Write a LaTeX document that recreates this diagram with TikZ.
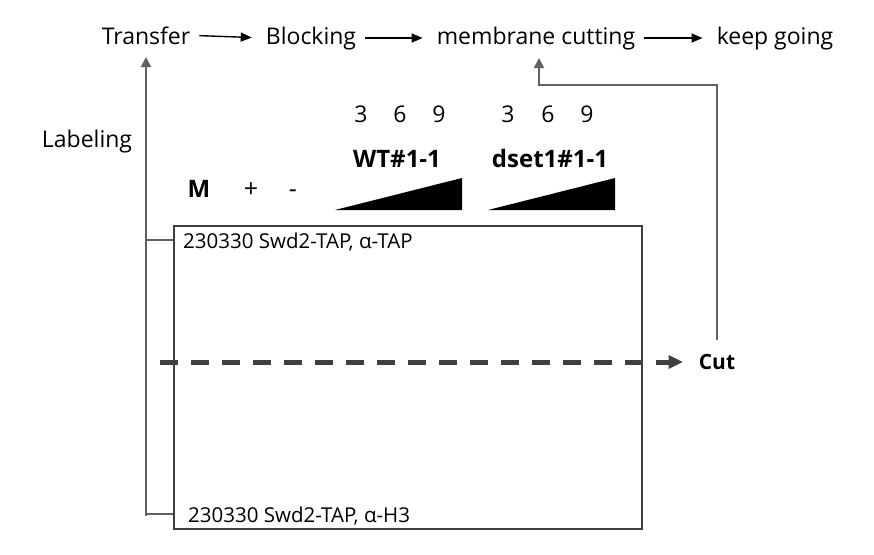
\documentclass[tikz,border=0pt]{standalone}
\usepackage{fontspec}
\setmainfont{Open Sans}
\usetikzlibrary{arrows.meta}
\tikzstyle{stage} = [font=\fontsize{23}{27}\selectfont, inner sep=0pt, anchor=base]
\tikzstyle{lane} = [font=\fontsize{24}{28}\selectfont\bfseries, inner sep=0pt, anchor=base]
\tikzstyle{tag} = [font=\fontsize{20.5}{24}\selectfont, inner sep=0pt, anchor=base west]
\tikzstyle{flow} = [black, line width=1.4pt, -{Triangle[length=11pt,width=9pt]}, shorten <=9pt, shorten >=14pt]
\tikzstyle{guide} = [draw=black!62, line width=1.8pt]
\tikzstyle{guidetip} = [-{Triangle[length=10pt,width=10pt]}]
\tikzstyle{membrane} = [draw=black!75, line width=1.8pt]
\tikzstyle{cutline} = [draw=black!75, line width=5pt, dash pattern=on 18pt off 13pt, -{Triangle[length=14pt,width=14pt,line width=0pt]}, shorten >=16pt]
\tikzstyle{ramp} = [fill=black]

\begin{document}
\begin{tikzpicture}[x=1pt,y=-1pt]
    \useasboundingbox (0,0) rectangle (874,554);
    \node[stage](transfer) at (146,44){Transfer};
    \node[stage](blocking) at (311,44){Blocking};
    \node[stage](cutting) at (536,44){membrane cutting};
    \node[stage](going) at (775,44){keep going};
    \draw[flow](transfer.east)--(blocking.west);
    \draw[flow](blocking.east)--(cutting.west);
    \draw[flow](cutting.east)--(going.west);
    \node[stage](labeling) at (87,147){Labeling};
    \node[stage](w3) at (361,122){3};
    \node[stage](w6) at (400,122){6};
    \node[stage](w9) at (439,122){9};
    \node[stage](d3) at (508,122){3};
    \node[stage](d6) at (548,122){6};
    \node[stage](d9) at (587,122){9};
    \node[lane](wt) at (397,167){WT\#1-1};
    \node[lane](dset) at (550,167){dset1\#1-1};
    \node[lane](marker) at (199,197){M};
    \node[stage,font=\fontsize{25}{29}\selectfont](plus) at (251,197){+};
    \node[stage,font=\fontsize{25}{29}\selectfont](minus) at (293,197){-};
    \fill[ramp](335,210)--(462,210)--(462,178)--cycle;
    \fill[ramp](488,210)--(615,210)--(615,178)--cycle;
    \draw[membrane](174,226) rectangle (642,529);
    \node[tag](tap) at (183,248){230330 Swd2-TAP, α-TAP};
    \node[tag](h3) at (188,522){230330 Swd2-TAP, α-H3};
    \coordinate (tapmark) at (173,240);
    \coordinate (h3mark) at (173,514);
    \coordinate (turn) at (539,85);
    \coordinate (cutmark) at (717,340);
    \coordinate (cutstart) at (160,362);
    \draw[guide](tapmark)-|([yshift=-2pt]h3mark -| transfer.base);
    \draw[guide,guidetip](h3mark)-|([yshift=-13pt]transfer.base);
    \draw[guide,guidetip](cutmark)|-(turn)--([xshift=3pt,yshift=-14pt]cutting.base);
    \node[font=\fontsize{21}{24}\selectfont\bfseries, inner sep=0pt, anchor=base](cut) at (717,369){Cut};
    \draw[cutline](cutstart)--(cutstart -| cut.west);
\end{tikzpicture}
\end{document}
